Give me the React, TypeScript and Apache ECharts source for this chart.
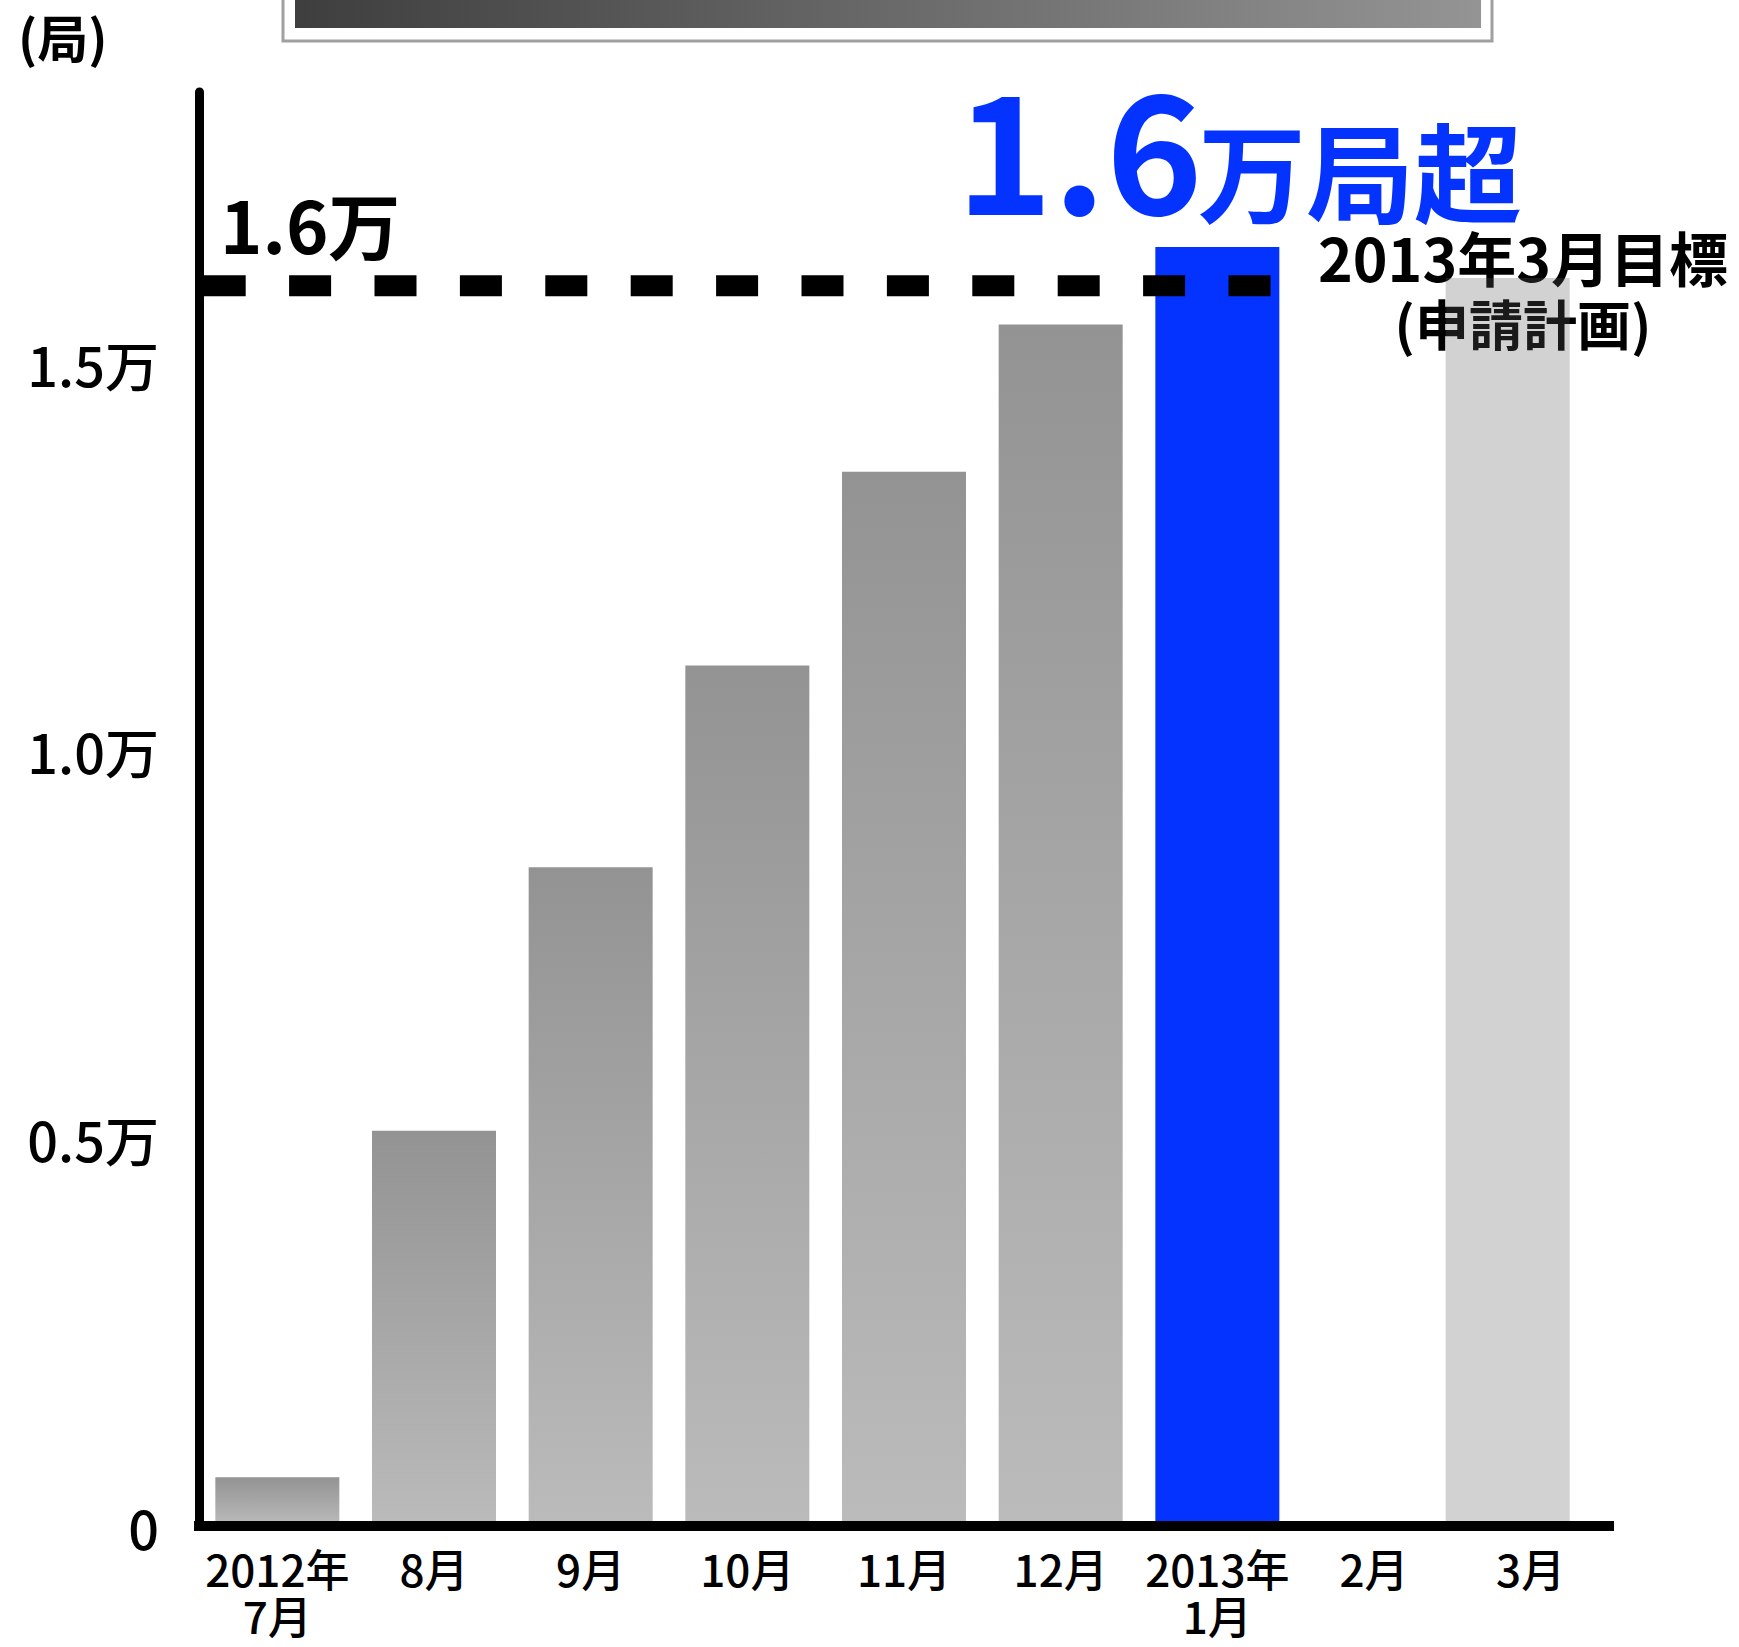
import React, { useEffect, useRef } from 'react';
import * as echarts from 'echarts';

// ---- data ----
const categories = ['2012年\n7月', '8月', '9月', '10月', '11月', '12月', '2013年\n1月', '2月', '3月'];
const stationCounts: (number | null)[] = [630, 5100, 8500, 11100, 13600, 15500, 16500, null, 16100];
const barKinds = ['past', 'past', 'past', 'past', 'past', 'past', 'now', 'none', 'plan'];
const yTickValues = [0, 5000, 10000, 15000];
const yAxisMax = 18500;
const targetValue = 16000;
const unitLabel = '(局)';
const targetLabel = '1.6万';
const headlineNumber = '1.6';
const headlineSuffix = '万局超';
const planLabelLines = ['2013年3月目標', '(申請計画)'];

const FONT = "'Noto Sans CJK JP', 'Noto Sans', sans-serif";

export default function App() {
  const ref = useRef<HTMLDivElement>(null);
  useEffect(() => {
    const chart = echarts.init(ref.current!, null, { renderer: 'svg' });

    const actualData = stationCounts.map((v, i) => {
      const kind = barKinds[i];
      if (kind === 'plan' || v == null) return null;
      const color =
        kind === 'now'
          ? '#0433ff'
          : new echarts.graphic.LinearGradient(0, 0, 0, 1, [
              { offset: 0, color: '#939393' },
              { offset: 1, color: '#bbbbbb' },
            ]);
      return { value: v, itemStyle: { color } };
    });
    const planData = stationCounts.map((v, i) => (barKinds[i] === 'plan' ? v : null));

    const txt = (text: string, x: number, y: number, size: number, opts: any = {}) => ({
      type: 'text',
      x,
      y,
      z: opts.z ?? 0,
      style: {
        text,
        fontSize: size,
        fontWeight: opts.weight ?? 'bold',
        fontFamily: FONT,
        fill: opts.fill ?? '#000',
        align: opts.align ?? 'left',
        verticalAlign: 'middle',
        textAlign: opts.align ?? 'left',
        textVerticalAlign: 'middle',
      },
    });

    const gridBox = { top: 92, width: 1410, height: 1434 };

    chart.setOption({
      animation: false,
      backgroundColor: '#ffffff',
      textStyle: { fontFamily: FONT },
      grid: [
        { left: 199, ...gridBox },
        { left: 176, ...gridBox },
      ],
      xAxis: [
        {
          type: 'category',
          gridIndex: 0,
          data: categories,
          z: 5,
          axisLine: { show: true, onZero: false, lineStyle: { color: '#000', width: 10, cap: 'square' } },
          axisTick: { show: false },
          axisLabel: {
            interval: 0,
            color: '#000',
            fontSize: 44,
            lineHeight: 47,
            fontWeight: 500,
            fontFamily: FONT,
            margin: 18,
          },
        },
        { type: 'value', gridIndex: 0, min: 0, max: categories.length, show: false },
        { type: 'category', gridIndex: 1, data: categories, show: false },
      ],
      yAxis: [
        {
          type: 'value',
          gridIndex: 0,
          min: 0,
          max: yAxisMax,
          interval: 5000,
          z: 5,
          axisLine: { show: true, onZero: false, lineStyle: { color: '#000', width: 9 } },
          axisTick: { show: false },
          splitLine: { show: false },
          axisLabel: {
            color: '#000',
            fontSize: 54,
            fontWeight: 500,
            fontFamily: FONT,
            margin: 40,
            padding: [0, 0, 10, 0],
            formatter: (v: number) =>
              yTickValues.includes(v) ? (v === 0 ? '0' : (v / 10000).toFixed(1) + '万') : '',
          },
        },
        { type: 'value', gridIndex: 1, min: 0, max: yAxisMax, interval: 5000, show: false },
      ],
      series: [
        {
          type: 'bar',
          xAxisIndex: 0,
          yAxisIndex: 0,
          data: actualData,
          barWidth: 124,
          silent: true,
        },
        {
          type: 'bar',
          xAxisIndex: 2,
          yAxisIndex: 1,
          data: planData,
          barWidth: 124,
          silent: true,
          itemStyle: { color: 'rgba(94,94,94,0.28)' },
        },
        {
          type: 'line',
          xAxisIndex: 1,
          yAxisIndex: 0,
          data: [
            [0.03, targetValue],
            [6.84, targetValue],
          ],
          symbol: 'none',
          silent: true,
          z: 3,
          lineStyle: { color: '#000', width: 21, type: [42, 43.4], cap: 'butt' },
        },
      ],
      graphic: [
        {
          type: 'rect',
          shape: { x: 283, y: -10, width: 1209, height: 51 },
          style: { fill: '#fff', stroke: '#a0a0a0', lineWidth: 3 },
        },
        {
          type: 'rect',
          shape: { x: 295, y: -5, width: 1186, height: 33 },
          style: {
            fill: new echarts.graphic.LinearGradient(0, 0, 1, 0, [
              { offset: 0, color: '#3e3e3e' },
              { offset: 1, color: '#949494' },
            ]),
          },
        },
        txt(unitLabel, 18, 36, 51),
        txt(targetLabel, 220, 222, 72),
        txt(headlineNumber, 956, 143, 164, { fill: '#0433ff' }),
        txt(headlineSuffix, 1198, 168, 108, { fill: '#0433ff' }),
        {
          type: 'text',
          x: 1523,
          y: 289,
          style: {
            text: `{a|${planLabelLines[0]}}\n{b|${planLabelLines[1]}}`,
            fontFamily: FONT,
            fontWeight: 'bold',
            fill: '#000',
            align: 'center',
            verticalAlign: 'middle',
            textAlign: 'center',
            textVerticalAlign: 'middle',
            rich: {
              a: { fontSize: 59, lineHeight: 66, fontWeight: 'bold', fontFamily: FONT, fill: '#000', align: 'center' },
              b: { fontSize: 54, lineHeight: 66, fontWeight: 'bold', fontFamily: FONT, fill: '#000', align: 'center' },
            },
          },
        },
      ],
    });

    return () => chart.dispose();
  }, []);
  return <div ref={ref} style={{ position: 'absolute', left: 0, top: 0, width: 1739, height: 1647 }} />;
}
